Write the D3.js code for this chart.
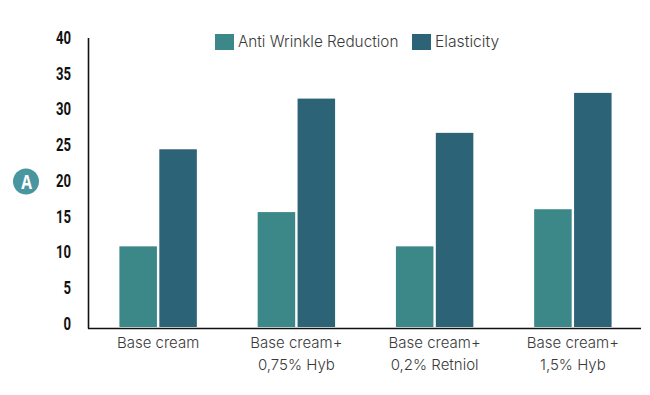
<!DOCTYPE html>
<html lang="en">

<body style="margin:0;background:#fff">
    <script type='text/javascript' src='https://d3js.org/d3.v7.min.js'></script>
    <script>

        // Data
        const categories = ["Base cream", "Base cream+|0,75% Hyb", "Base cream+|0,2% Retniol", "Base cream+|1,5% Hyb"];
        const seriesNames = ["Anti Wrinkle Reduction", "Elasticity"];
        const antiWrinkle = [11.3, 16.1, 11.3, 16.5];
        const elasticity = [24.9, 32.0, 27.2, 32.8];
        const yTicks = [0, 5, 10, 15, 20, 25, 30, 35, 40];
        const seriesColors = ["#3c8787", "#2c6377"];

        const svg = d3.select("body")
            .append("svg")
            .attr("width", 650)
            .attr("height", 395)
            .style("display", "block");

        const lightFont = "Inter, 'Noto Sans', sans-serif";

        // Scales
        const x = d3.scaleBand().domain(categories).range([89, 642]).paddingInner(0.44).paddingOuter(0.22);
        const sub = d3.scaleBand().domain(seriesNames).range([0, x.bandwidth()]).paddingInner(0.06);
        const y = d3.scaleLinear().domain([0, 40]).range([327, 41.5]);

        // Bars
        [antiWrinkle, elasticity].forEach((values, s) => {
            svg.append("g").selectAll("rect")
                .data(values)
                .enter()
                .append("rect")
                .attr("x", (d, i) => x(categories[i]) + sub(seriesNames[s]))
                .attr("y", d => y(d))
                .attr("width", sub.bandwidth())
                .attr("height", d => y(0) - y(d))
                .attr("fill", seriesColors[s]);
        });

        // Y axis, digits squeezed to look condensed
        const yAxis = svg.append("g")
            .attr("transform", "translate(88.5,0)")
            .call(d3.axisLeft(y).tickValues(yTicks).tickSize(0));
        yAxis.select(".domain")
            .attr("d", "M0,38V328.5")
            .attr("stroke", "#111")
            .attr("stroke-width", 1.6);
        yAxis.selectAll("text")
            .attr("x", 0)
            .attr("y", -3.5)
            .attr("transform", "translate(-17.5,0) scale(0.75,1)")
            .attr("fill", "#111")
            .style("font-family", "Roboto, sans-serif")
            .style("font-weight", 700)
            .style("font-size", "17.5px");

        // X axis
        const xAxis = svg.append("g")
            .attr("transform", "translate(0,328.5)")
            .call(d3.axisBottom(x).tickSize(0).tickFormat(""));
        xAxis.select(".domain")
            .attr("d", "M88,0H641")
            .attr("stroke", "#111")
            .attr("stroke-width", 1.6);
        xAxis.selectAll("text").remove();
        xAxis.selectAll(".tick")
            .append("text")
            .attr("text-anchor", "middle")
            .attr("fill", "#3a3a3a")
            .style("font-family", lightFont)
            .style("font-weight", 300)
            .style("font-size", "15px")
            .selectAll("tspan")
            .data(d => d.split("|"))
            .enter()
            .append("tspan")
            .attr("x", 0)
            .attr("y", (d, i) => 19.5 + i * 22)
            .text(d => d);

        // Legend
        const legendX = [215, 412];
        const legendSize = ["15.3px", "15.7px"];
        seriesNames.forEach((name, i) => {
            svg.append("rect")
                .attr("x", legendX[i])
                .attr("y", 34)
                .attr("width", 19)
                .attr("height", 16)
                .attr("fill", seriesColors[i]);
            svg.append("text")
                .attr("x", legendX[i] + 23)
                .attr("y", 47)
                .attr("fill", "#3a3a3a")
                .style("font-family", lightFont)
                .style("font-weight", 300)
                .style("font-size", legendSize[i])
                .text(name);
        });

        // Panel badge
        svg.append("circle")
            .attr("cx", 26)
            .attr("cy", 181.5)
            .attr("r", 13)
            .attr("fill", "#4a96a0");
        svg.append("text")
            .attr("transform", "translate(26.5,188.5) scale(0.8,1)")
            .attr("text-anchor", "middle")
            .attr("fill", "#fff")
            .style("font-family", "'Open Sans', sans-serif")
            .style("font-weight", "bold")
            .style("font-size", "19.5px")
            .text("A");

    </script>

</body>

</html>
